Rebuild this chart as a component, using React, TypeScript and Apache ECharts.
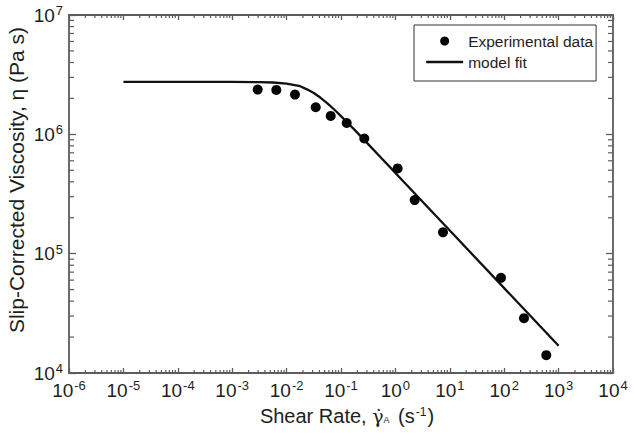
import React, { useEffect, useRef } from "react";
import * as echarts from "echarts";

// Measured slip-corrected viscosity vs. shear rate
const shearRate = [0.00294, 0.00647, 0.01426, 0.0343, 0.0647, 0.1274, 0.268, 1.10, 2.26, 7.50, 87.3, 231, 594];
const viscosity = [2.371e6, 2.355e6, 2.153e6, 1.687e6, 1.426e6, 1.245e6, 9.23e5, 5.18e5, 2.81e5, 1.51e5, 6.27e4, 2.88e4, 1.41e4];

// Model fit curve
const fitRate = [
  1e-5, 1e-4, 1e-3, 0.00316, 0.00562, 0.01, 0.0133, 0.0178, 0.0237, 0.0316, 0.0422, 0.0562, 0.075, 0.1, 0.133, 0.178,
  0.316, 0.562, 1, 10, 100, 1000,
];
const fitViscosity = [
  2.748e6, 2.748e6, 2.748e6, 2.739e6, 2.719e6, 2.661e6, 2.602e6, 2.529e6, 2.382e6, 2.218e6, 2.023e6, 1.82e6, 1.614e6,
  1.422e6, 1.245e6, 1.089e6, 8.28e5, 6.27e5, 4.75e5, 1.563e5, 5.14e4, 1.69e4,
];

// Axis ranges (decades)
const X_MIN = 1e-6;
const X_MAX = 1e4;
const Y_MIN = 1e4;
const Y_MAX = 1e7;
const xDecades = [-6, -5, -4, -3, -2, -1, 0, 1, 2, 3];
const yDecades = [4, 5, 6];
const minorMultipliers = [2, 3, 4, 5, 6, 7, 8, 9];

const FONT = "'Liberation Sans', Arial, Helvetica, sans-serif";
const AXIS_COLOR = "#5c5c5c";
const TEXT_COLOR = "#1e1e1e";

const xMinorTicks: number[][] = [];
xDecades.forEach((d) => minorMultipliers.forEach((m) => xMinorTicks.push([m * Math.pow(10, d), Y_MIN])));
const yMinorTicks: number[][] = [];
yDecades.forEach((d) => minorMultipliers.forEach((m) => yMinorTicks.push([X_MIN, m * Math.pow(10, d)])));

const powerLabel = (v: number) => {
  const e = Math.round(Math.log10(v));
  return `{b|10}{s|${e}}`;
};

const labelRich = {
  b: { fontSize: 19, fontFamily: FONT, color: TEXT_COLOR, lineHeight: 22, verticalAlign: "middle" },
  s: { fontSize: 13, fontFamily: FONT, color: TEXT_COLOR, lineHeight: 22, verticalAlign: "top", padding: [0, 0, 10, 1] },
};

export default function App() {
  const ref = useRef<HTMLDivElement>(null);

  useEffect(() => {
    if (!ref.current) return;
    const chart = echarts.init(ref.current, null, { renderer: "svg" });

    const frameAxis = (extra: any) => ({
      type: "log",
      logBase: 10,
      interval: 1,
      axisLine: { show: true, lineStyle: { color: AXIS_COLOR, width: 1.8 } },
      splitLine: { show: false },
      ...extra,
    });

    chart.setOption({
      animation: false,
      backgroundColor: "#ffffff",
      grid: { left: 69, top: 15, right: 21, bottom: 60, containLabel: false },
      xAxis: [
        frameAxis({
          min: X_MIN,
          max: X_MAX,
          position: "bottom",
          axisTick: { show: true, inside: true, length: 5, lineStyle: { color: AXIS_COLOR, width: 1.3 } },
          axisLabel: { show: true, margin: 6, formatter: powerLabel, rich: labelRich },
        }),
        frameAxis({
          min: X_MIN,
          max: X_MAX,
          position: "top",
          axisTick: { show: true, inside: true, length: 5, lineStyle: { color: AXIS_COLOR, width: 1.3 } },
          axisLabel: { show: false },
        }),
      ],
      yAxis: [
        frameAxis({
          min: Y_MIN,
          max: Y_MAX,
          position: "left",
          axisTick: { show: true, inside: true, length: 7, lineStyle: { color: AXIS_COLOR, width: 1.3 } },
          axisLabel: { show: true, margin: 6, formatter: powerLabel, rich: labelRich },
        }),
        frameAxis({
          min: Y_MIN,
          max: Y_MAX,
          position: "right",
          axisTick: { show: true, inside: true, length: 7, lineStyle: { color: AXIS_COLOR, width: 1.3 } },
          axisLabel: { show: false },
        }),
      ],
      legend: {
        left: 414,
        top: 25,
        orient: "vertical",
        padding: [8, 3, 11, 11],
        itemGap: 5,
        itemWidth: 37,
        itemHeight: 9,
        borderColor: "#333333",
        borderWidth: 1,
        borderRadius: 0,
        textStyle: { fontSize: 15.5, fontFamily: FONT, color: TEXT_COLOR },
        data: [
          { name: "Experimental data", icon: "circle", itemStyle: { opacity: 1 } },
          { name: "model fit", itemStyle: { opacity: 0 }, lineStyle: { color: "#111111", width: 2.3, opacity: 1 } },
        ],
      },
      graphic: [
        {
          type: "text",
          x: 347,
          y: 416,
          style: {
            text: "{a|Shear Rate, }{g|γ̇}{sub|A}{a| (s}{sup|-1}{a|)}",
            align: "center",
            verticalAlign: "middle",
            rich: {
              a: { fontSize: 20, fontFamily: FONT, fill: TEXT_COLOR, lineHeight: 24 },
              g: { fontSize: 19, fontFamily: "'DejaVu Serif', 'DejaVu Sans', serif", fill: TEXT_COLOR, lineHeight: 24 },
              sub: { fontSize: 9, fontFamily: FONT, fill: TEXT_COLOR, lineHeight: 24, verticalAlign: "bottom", padding: [0, 3, 4, 0] },
              sup: { fontSize: 12, fontFamily: FONT, fill: TEXT_COLOR, lineHeight: 24, verticalAlign: "top", padding: [2, 1, 0, 1] },
            },
          },
        },
        {
          type: "text",
          x: 16,
          y: 180,
          rotation: Math.PI / 2,
          style: {
            text: "Slip-Corrected Viscosity, η (Pa s)",
            align: "center",
            verticalAlign: "middle",
            font: `21px ${FONT}`,
            fill: TEXT_COLOR,
          },
        },
      ],
      series: [
        {
          name: "model fit",
          type: "line",
          data: fitRate.map((r, i) => [r, fitViscosity[i]]),
          symbol: "none",
          showSymbol: false,
          smooth: false,
          lineStyle: { color: "#111111", width: 2.3 },
          itemStyle: { color: "#111111" },
          z: 3,
        },
        {
          name: "Experimental data",
          type: "scatter",
          data: shearRate.map((r, i) => [r, viscosity[i]]),
          symbol: "circle",
          symbolSize: 10,
          itemStyle: { color: "#050505", opacity: 1 },
          z: 4,
        },
        {
          name: "x minor ticks",
          type: "custom",
          silent: true,
          data: xMinorTicks,
          renderItem: (params: any, api: any) => {
            const p = api.coord([api.value(0), Y_MIN]);
            const cs = params.coordSys;
            const style = { stroke: AXIS_COLOR, lineWidth: 1.2 };
            return {
              type: "group",
              children: [
                { type: "line", shape: { x1: p[0], y1: cs.y + cs.height, x2: p[0], y2: cs.y + cs.height - 3 }, style },
                { type: "line", shape: { x1: p[0], y1: cs.y, x2: p[0], y2: cs.y + 3 }, style },
              ],
            };
          },
          z: 2,
        },
        {
          name: "y minor ticks",
          type: "custom",
          silent: true,
          data: yMinorTicks,
          renderItem: (params: any, api: any) => {
            const p = api.coord([X_MIN, api.value(1)]);
            const cs = params.coordSys;
            const style = { stroke: AXIS_COLOR, lineWidth: 1.2 };
            return {
              type: "group",
              children: [
                { type: "line", shape: { x1: cs.x, y1: p[1], x2: cs.x + 5, y2: p[1] }, style },
                { type: "line", shape: { x1: cs.x + cs.width, y1: p[1], x2: cs.x + cs.width - 5, y2: p[1] }, style },
              ],
            };
          },
          z: 2,
        },
      ],
    });

    return () => chart.dispose();
  }, []);

  return <div ref={ref} style={{ width: 634, height: 433, position: "fixed", left: 0, top: 0 }} />;
}
